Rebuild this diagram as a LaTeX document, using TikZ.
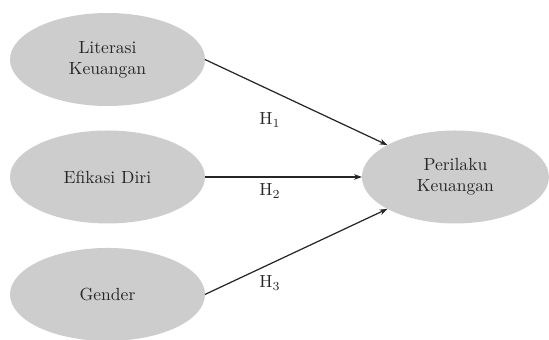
\documentclass[tikz,border=0pt]{standalone}
\usepackage{tikz}
\usetikzlibrary{shapes.geometric, arrows.meta, positioning}
\definecolor{ovalfill}{HTML}{CDCDCD}
\definecolor{textdark}{HTML}{262626}
\tikzset{
  varnode/.style={
    ellipse, fill=ovalfill, draw=none,
    minimum width=3.9cm, minimum height=1.86cm,
    inner sep=0pt, outer sep=0pt,
    align=center, text=textdark,
    font=\fontsize{10}{12}\selectfont
  },
  arrow/.style={
    -{Stealth[length=4.5pt, width=3.2pt]}, line width=0.7pt, color=black!85
  },
  hyplabel/.style={
    font=\fontsize{10}{12}\selectfont, text=textdark, inner sep=1pt
  }
}
\begin{document}
\begin{tikzpicture}[x=0.02cm, y=-0.02cm]
  \useasboundingbox (0,0) rectangle (549,339);

  % ── Independent variables ─────────────────────────────────────────────
  \node[varnode] (lit) at (107.5,59.5) {Literasi\\Keuangan};
  \node[varnode, below=0.49cm of lit] (efi) {Efikasi Diri};
  \node[varnode, below=0.49cm of efi] (gen) {Gender};

  % ── Dependent variable ────────────────────────────────────────────────
  \node[varnode, minimum width=3.74cm, right=3.14cm of efi] (per) {Perilaku\\Keuangan};

  % arrows — hypotheses
  \draw[arrow] (lit.east) -- (per);
  \draw[arrow] (efi) -- (per);
  \draw[arrow] (gen.east) -- (per);

  % hypothesis labels
  \node[hyplabel] (h1) at (270,120) {H$_1$};
  \node[hyplabel] (h2) at (270,191) {H$_2$};
  \node[hyplabel] (h3) at (270,283) {H$_3$};

\end{tikzpicture}
\end{document}
